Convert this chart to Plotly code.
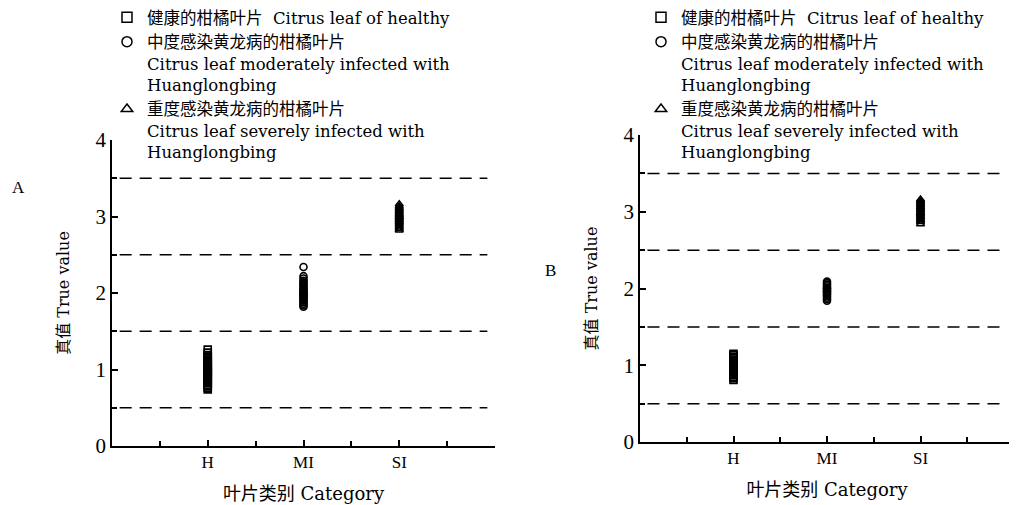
import plotly.graph_objects as go

categories = ["H", "MI", "SI"]
cat_pos = [1, 2, 3]
thresholds = [0.5, 1.5, 2.5, 3.5]

# Panel A values
a_h = [0.74, 0.76, 0.78, 0.80, 0.82, 0.84, 0.86, 0.87, 0.89, 0.90, 0.92, 0.93, 0.95, 0.96, 0.97,
       0.99, 1.00, 1.01, 1.03, 1.04, 1.06, 1.07, 1.09, 1.11, 1.13, 1.15, 1.17, 1.19, 1.22, 1.26]
a_mi = [1.82, 1.84, 1.86, 1.88, 1.90, 1.92, 1.93, 1.95, 1.96, 1.98, 1.99, 2.00, 2.01, 2.03, 2.04,
        2.06, 2.08, 2.10, 2.12, 2.14, 2.16, 2.19, 2.22, 2.34]
a_si = [2.82, 2.84, 2.86, 2.88, 2.90, 2.92, 2.93, 2.95, 2.96, 2.98, 2.99, 3.00, 3.02, 3.03, 3.05,
        3.07, 3.09, 3.11, 3.13, 3.16]

# Panel B values
b_h = [0.81, 0.83, 0.85, 0.87, 0.89, 0.91, 0.93, 0.95, 0.96, 0.98, 0.99, 1.00, 1.02, 1.03, 1.05,
       1.07, 1.09, 1.11, 1.13, 1.15]
b_mi = [1.84, 1.86, 1.88, 1.90, 1.92, 1.93, 1.95, 1.96, 1.97, 1.99, 2.00, 2.01, 2.03, 2.05, 2.07, 2.09]
b_si = [2.84, 2.87, 2.89, 2.91, 2.93, 2.95, 2.97, 2.98, 3.00, 3.02, 3.04, 3.06, 3.08, 3.10, 3.12,
        3.14, 3.16]

legend_names = [
    "健康的柑橘叶片  Citrus leaf of healthy",
    "中度感染黄龙病的柑橘叶片<br>Citrus leaf moderately infected with<br>Huanglongbing",
    "重度感染黄龙病的柑橘叶片<br>Citrus leaf severely infected with<br>Huanglongbing",
]
symbols = ["square-open", "circle-open", "triangle-up-open"]

TFONT = "Liberation Serif, Noto Sans CJK SC, serif"
FONT = "DejaVu Serif, Noto Sans CJK SC, serif"

fig = go.Figure()

panels = [
    ("x", "y", "legend", [a_h, a_mi, a_si]),
    ("x2", "y2", "legend2", [b_h, b_mi, b_si]),
]

for xa, ya, lg, series in panels:
    for i, vals in enumerate(series):
        fig.add_trace(go.Scatter(
            x=[cat_pos[i]] * len(vals), y=vals, mode="markers",
            marker=dict(symbol=symbols[i], size=7, color="black", line=dict(width=1.6, color="black")),
            xaxis=xa, yaxis=ya, showlegend=False, hoverinfo="skip"))
    for i in range(3):
        fig.add_trace(go.Scatter(
            x=[None], y=[None], mode="markers", name=legend_names[i],
            marker=dict(symbol=symbols[i], size=10, color="black", line=dict(width=1.5, color="black")),
            xaxis=xa, yaxis=ya, legend=lg, showlegend=True))
    for t in thresholds:
        fig.add_shape(type="line", xref=xa, yref=ya, x0=0.08, x1=3.92, y0=t, y1=t,
                      line=dict(color="black", width=1.5, dash="12px,8px"))

W, H = 1017, 505
OFF = 8  # page body margin

def xdom(a, b):
    return [(a - OFF) / W, (b - OFF) / W]

def ydom(top, bottom):
    return [1 - (bottom - OFF) / H, 1 - (top - OFF) / H]

def px(x):
    return (x - OFF) / W

def py(y):
    return 1 - (y - OFF) / H

axis_common = dict(
    showline=True, linecolor="black", linewidth=1.5, mirror=False,
    ticks="inside", ticklen=6, tickwidth=1.5, tickcolor="black",
    showgrid=False, zeroline=False, automargin=False,
    minor=dict(ticks="inside", tick0=0, dtick=0.5, ticklen=5, tickwidth=1.5, tickcolor="black"),
)
xfont = dict(tickfont=dict(family=TFONT, size=17, color="black"))
yfont = dict(tickfont=dict(family=TFONT, size=21, color="black"))
xtitle = dict(text="叶片类别 Category", standoff=16, font=dict(family=FONT, size=18, color="black"))
ytitle = dict(text="真值 True value", standoff=22, font=dict(family=FONT, size=16, color="black"))

fig.update_layout(
    width=W, height=H,
    margin=dict(l=0, r=0, t=0, b=0, autoexpand=False),
    paper_bgcolor="white", plot_bgcolor="white",
    font=dict(family=FONT, color="black"),
    xaxis=dict(domain=xdom(112, 495), range=[0, 4], anchor="y",
               tickvals=cat_pos, ticktext=categories, title=xtitle, **xfont, **axis_common),
    yaxis=dict(domain=ydom(140, 446), range=[0, 4], anchor="x",
               tickvals=[0, 1, 2, 3, 4], title=ytitle, **yfont, **axis_common),
    xaxis2=dict(domain=xdom(640, 1014), range=[0, 4], anchor="y2",
                tickvals=cat_pos, ticktext=categories, title=xtitle, **xfont, **axis_common),
    yaxis2=dict(domain=ydom(135, 442), range=[0, 4], anchor="x2",
                tickvals=[0, 1, 2, 3, 4], title=ytitle, **yfont, **axis_common),
    legend=dict(x=px(107), y=1 + 8 / H, xanchor="left", yanchor="top", valign="top",
                bgcolor="rgba(0,0,0,0)", font=dict(family=FONT, size=16.5, color="black")),
    legend2=dict(x=px(641), y=1 + 8 / H, xanchor="left", yanchor="top", valign="top",
                 bgcolor="rgba(0,0,0,0)", font=dict(family=FONT, size=16.5, color="black")),
    annotations=[
        dict(text="A", x=px(10), y=py(187), xref="paper", yref="paper", showarrow=False,
             xanchor="left", font=dict(family=TFONT, size=17, color="black")),
        dict(text="B", x=px(543), y=py(270), xref="paper", yref="paper", showarrow=False,
             xanchor="left", font=dict(family=TFONT, size=17, color="black")),
    ],
)

fig.write_html("out.html")
